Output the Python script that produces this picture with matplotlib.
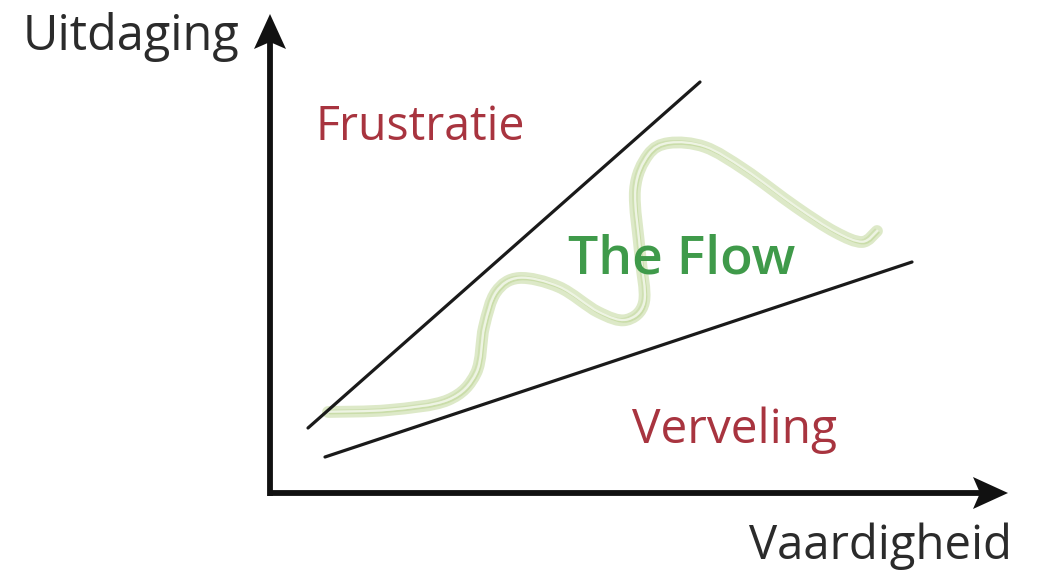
import matplotlib
matplotlib.use("Agg")
import matplotlib.pyplot as plt
from matplotlib.path import Path
from matplotlib.patches import PathPatch
import numpy as np

# Data (in picture coordinates: x to the right, y downward)
x_axis_label = "Vaardigheid"
y_axis_label = "Uitdaging"
zone_labels = ["Frustratie", "The Flow", "Verveling"]
upper_line_x = [308, 700]
upper_line_y = [428, 82]
lower_line_x = [325, 912]
lower_line_y = [457, 262]
flow_x = [328, 389, 448, 476, 484, 496, 519, 559, 598, 626, 644, 640, 635, 648, 669, 705, 745, 796, 835, 862, 877]
flow_y = [412, 410, 400, 373, 327, 292, 278, 287, 312, 320, 302, 253, 190, 155, 143, 147, 170, 207, 232, 242, 231]

W, H = 1050, 571
fig = plt.figure(figsize=(W / 100, H / 100), dpi=100)
ax = fig.add_axes([0, 0, 1, 1])
ax.set_xlim(0, W)
ax.set_ylim(H, 0)
ax.axis("off")

FONT = ["Open Sans", "DejaVu Sans"]

def smooth_path(xs, ys):
    pts = np.column_stack([xs, ys]).astype(float)
    verts = [pts[0]]
    codes = [Path.MOVETO]
    n = len(pts)
    for i in range(n - 1):
        p0 = pts[i - 1] if i > 0 else pts[i]
        p1 = pts[i]
        p2 = pts[i + 1]
        p3 = pts[i + 2] if i + 2 < n else pts[i + 1]
        c1 = p1 + (p2 - p0) / 6.0
        c2 = p2 - (p3 - p1) / 6.0
        verts += [c1, c2, p2]
        codes += [Path.CURVE4] * 3
    return Path(verts, codes)

# green flow curve (sketchy, several strands)
base = smooth_path(flow_x, flow_y)
ax.add_patch(PathPatch(base, facecolor="none", edgecolor="#dde9c8", lw=8.5, capstyle="round", joinstyle="round"))
for dx, dy, c, lw in [(-1.8, -1.5, "#cfe0b2", 1.3), (1.8, 1.5, "#cadda9", 1.3), (0.4, -0.3, "#eef4e3", 1.6)]:
    p = smooth_path(np.array(flow_x) + dx, np.array(flow_y) + dy)
    ax.add_patch(PathPatch(p, facecolor="none", edgecolor=c, lw=lw, capstyle="round"))

# black boundary lines
ax.plot(upper_line_x, upper_line_y, color="#1a1a1a", lw=2.3, solid_capstyle="round")
ax.plot(lower_line_x, lower_line_y, color="#1a1a1a", lw=2.3, solid_capstyle="round")

# axes with arrows
AX0_X, AX0_Y = 270, 493
TOP_Y, RIGHT_X = 14, 1008
HL, HW, NOTCH = 35, 16, 7
ax.plot([AX0_X, AX0_X], [AX0_Y + 2.5, TOP_Y + HL - NOTCH], color="#111111", lw=4.2, solid_capstyle="butt")
ax.plot([AX0_X - 2.5, RIGHT_X - HL + NOTCH], [AX0_Y, AX0_Y], color="#111111", lw=4.2, solid_capstyle="butt")
ax.fill([AX0_X, AX0_X - HW, AX0_X, AX0_X + HW],
        [TOP_Y, TOP_Y + HL, TOP_Y + HL - NOTCH, TOP_Y + HL], color="#111111", lw=0)
ax.fill([RIGHT_X, RIGHT_X - HL, RIGHT_X - HL + NOTCH, RIGHT_X - HL],
        [AX0_Y, AX0_Y - HW, AX0_Y, AX0_Y + HW], color="#111111", lw=0)

# texts
ax.text(23, 50, y_axis_label, fontsize=35, color="#2b2b2b", va="baseline", ha="left", family=FONT)
ax.text(1012, 559, x_axis_label, fontsize=34, color="#2b2b2b", va="baseline", ha="right", family=FONT)
ax.text(316, 140, zone_labels[0], fontsize=33.5, color="#a8343f", va="baseline", ha="left", family=FONT)
ax.text(568, 273, zone_labels[1], fontsize=38.5, color="#3f9a4a", va="baseline", ha="left", family=FONT, weight="semibold")
ax.text(632, 443, zone_labels[2], fontsize=34.5, color="#a8343f", va="baseline", ha="left", family=FONT)

fig.savefig("out.png", dpi=100, facecolor="white")
